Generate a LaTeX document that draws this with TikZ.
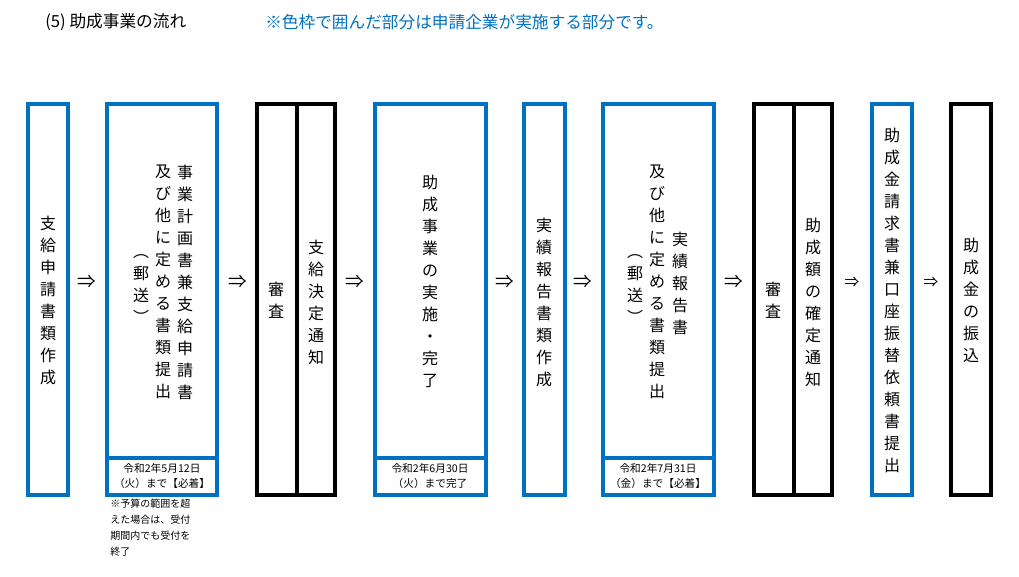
\documentclass[tikz,border=0pt]{standalone}
\usepackage{fontspec}
\setmainfont{Noto Sans CJK JP}
\definecolor{bl}{HTML}{0070C0}
\makeatletter
\def\vchars#1{\vchars@a#1\relax}
\def\vchars@a#1{\ifx#1\relax\else\hbox to 14pt{\hss#1\hss}\par\expandafter\vchars@a\fi}
\makeatother
\tikzset{
  bbox/.style={draw=bl,line width=3pt},
  kbox/.style={draw=black,line width=3pt},
  vt/.style={inner sep=0pt,text width=14pt,align=center,font=\fontsize{12}{16.5}\selectfont},
  arr/.style={font=\fontsize{14}{14}\selectfont,inner sep=0pt},
  sarr/.style={font=\fontsize{11}{11}\selectfont,inner sep=0pt},
  date/.style={inner sep=0pt,align=center,font=\fontsize{8}{11}\selectfont}
}
\begin{document}
\begin{tikzpicture}[x=0.75pt,y=-0.75pt]
\useasboundingbox (0,0) rectangle (1019,577);
\node[anchor=west,font=\fontsize{12.5}{14}\selectfont,inner sep=0pt] (t1) at (45,22) {(5) 助成事業の流れ};
\node[anchor=west,font=\fontsize{12.5}{14}\selectfont,inner sep=0pt,text=bl] (t2) at (265,22) {※色枠で囲んだ部分は申請企業が実施する部分です。};
% boxes
\draw[bbox] (28,104) rectangle (68,495);
\draw[bbox] (107,104) rectangle (217,495); \draw[bbox] (107,458) -- (217,458);
\draw[kbox] (257,104) rectangle (335,495); \draw[kbox] (297,104) -- (297,495);
\draw[bbox] (375,104) rectangle (486,495); \draw[bbox] (375,458) -- (486,458);
\draw[bbox] (524,104) rectangle (565,495);
\draw[bbox] (603,104) rectangle (714,495); \draw[bbox] (603,458) -- (714,458);
\draw[kbox] (754,104) rectangle (832,495); \draw[kbox] (794,104) -- (794,495);
\draw[bbox] (872,104) rectangle (912,495);
\draw[kbox] (951,104) rectangle (991,495);
% texts
\node[vt] (a1) at (48,300) {\vchars{支給申請書類作成}};
\node[vt] (a2r) at (185,282) {\vchars{事業計画書兼支給申請書}};
\node[vt] (a2l) at (163,282) {\vchars{及び他に定める書類提出}};
\node[vt] (a2p) at (141,289) {\vchars{︵郵送︶}};
\node[date] (d1) at (162,476) {令和2年5月12日\\（火）まで【必着】};
\node[anchor=north west,inner sep=0pt,align=left,font=\fontsize{7.5}{12}\selectfont] (n1) at (110,499) {※予算の範囲を超\\えた場合は、受付\\期間内でも受付を\\終了};
\node[vt] (a3a) at (276,300) {\vchars{審査}};
\node[vt] (a3b) at (316,302) {\vchars{支給決定通知}};
\node[vt] (a4) at (430,281) {\vchars{助成事業の実施・完了}};
\node[date] (d2) at (430,476) {令和2年6月30日\\（火）まで完了};
\node[vt] (a5) at (544,302) {\vchars{実績報告書類作成}};
\node[vt] (a6r) at (680,283) {\vchars{実績報告書}};
\node[vt] (a6l) at (657,282) {\vchars{及び他に定める書類提出}};
\node[vt] (a6p) at (635,289) {\vchars{︵郵送︶}};
\node[date] (d3) at (658,476) {令和2年7月31日\\（金）まで【必着】};
\node[vt] (a7a) at (773,300) {\vchars{審査}};
\node[vt] (a7b) at (813,302) {\vchars{助成額の確定通知}};
\node[vt] (a8) at (892,300) {\vchars{助成金請求書兼口座振替依頼書提出}};
\node[vt] (a9) at (971,300) {\vchars{助成金の振込}};
% arrows
\node[arr] (r1) at (87,282) {⇒};
\node[arr] (r2) at (238,282) {⇒};
\node[arr] (r3) at (355,282) {⇒};
\node[arr] (r4) at (505,282) {⇒};
\node[arr] (r5) at (583,282) {⇒};
\node[arr] (r6) at (734,282) {⇒};
\node[sarr] (r7) at (852,282) {⇒};
\node[sarr] (r8) at (931,282) {⇒};
\end{tikzpicture}
\end{document}
